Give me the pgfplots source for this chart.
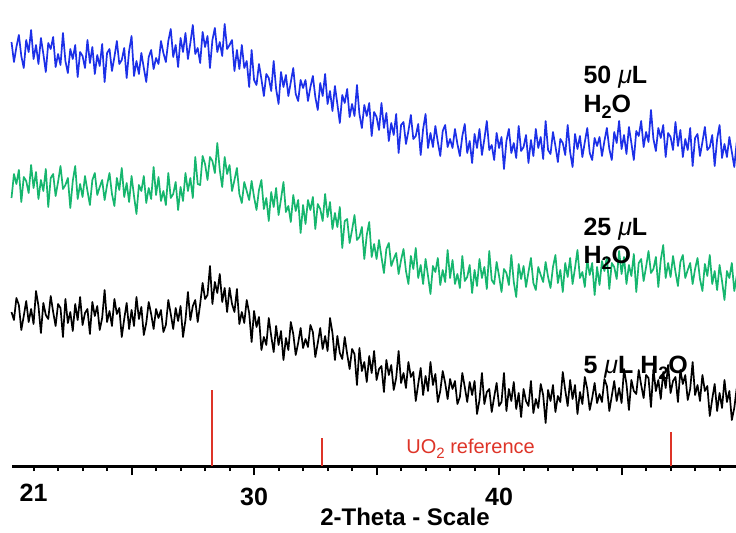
\documentclass[border=0pt]{standalone}
\usepackage{fontspec}
\setmainfont{Liberation Sans}
\usepackage{pgfplots}
\usepackage{pgfplotstable}
\pgfplotsset{compat=1.18}
\definecolor{tblue}{RGB}{28,48,232}
\definecolor{tgreen}{RGB}{22,182,110}
\definecolor{tred}{RGB}{222,52,40}
\newcommand{\sub}[1]{\raisebox{-0.5ex}{\fontsize{9}{9}\selectfont #1}}
\pgfplotstableread{
x b g k
20.1 424 268 154
20.2 404 292 146
20.3 419 282 168
20.4 431 296 161
20.5 410 264 136
20.6 398 289 150
20.7 426 285 165
20.8 414 273 144
20.9 436 301 157
21.0 407 278 142
21.1 421 294 175
21.2 402 267 160
21.3 428 286 133
21.4 412 275 163
21.5 394 297 151
21.6 423 259 147
21.7 417 288 170
21.8 429 292 154
21.9 399 270 140
22.0 412 284 162
22.1 401 300 158
22.2 433 277 129
22.3 405 281 167
22.4 393 288 143
22.5 417 258 154
22.6 407 285 135
22.7 421 300 162
22.8 389 267 146
22.9 414 282 169
23.0 410 269 141
23.1 398 290 153
23.2 426 275 157
23.3 403 261 132
23.4 419 286 164
23.5 392 293 150
23.6 411 271 160
23.7 400 279 136
23.8 422 286 148
23.9 384 266 176
24.0 413 281 144
24.1 417 293 155
24.2 395 272 140
24.3 409 260 167
24.4 425 288 152
24.5 402 276 158
24.6 406 298 129
24.7 418 269 147
24.8 388 283 163
24.9 415 264 137
25.0 430 290 156
25.1 390 270 140
25.2 405 252 169
25.3 392 281 147
25.4 413 275 159
25.5 398 290 131
25.6 384 263 143
25.7 409 278 164
25.8 416 267 152
25.9 397 299 137
26.0 408 271 157
26.1 402 289 148
26.2 425 265 156
26.3 413 275 134
26.4 404 261 141
26.5 425 293 166
26.6 437 268 152
26.7 409 272 137
26.8 421 284 158
26.9 399 256 145
27.0 428 279 160
27.1 414 265 129
27.2 433 293 146
27.3 407 275 174
27.4 423 288 146
27.5 441 268 160
27.6 412 309 166
27.7 418 282 144
27.8 403 281 162
27.9 434 310 183
28.0 419 302 167
28.1 430 286 171
28.2 398 309 200
28.3 426 305 162
28.4 438 293 184
28.5 414 323 173
28.6 424 296 192
28.7 410 279 164
28.8 442 309 178
28.9 417 292 154
29.0 421 301 178
29.1 426 275 162
29.2 395 286 154
29.3 416 298 177
29.4 397 272 142
29.5 421 263 154
29.6 398 284 143
29.7 405 275 166
29.8 379 266 153
29.9 416 285 124
30.0 386 269 155
30.1 381 256 139
30.2 402 276 149
30.3 387 286 116
30.4 370 257 129
30.5 392 268 121
30.6 388 245 148
30.7 375 274 130
30.8 405 259 114
30.9 377 278 140
31.0 362 251 121
31.1 394 267 135
31.2 379 284 106
31.3 391 254 128
31.4 370 260 116
31.5 384 244 144
31.6 398 271 132
31.7 372 255 111
31.8 365 266 123
31.9 386 233 138
32.0 378 261 118
32.1 386 242 127
32.2 365 266 119
32.3 379 256 141
32.4 390 269 134
32.5 369 237 109
32.6 356 262 123
32.7 383 257 138
32.8 370 245 117
32.9 392 272 130
33.0 362 249 115
33.1 375 264 148
33.2 355 237 133
33.3 380 253 106
33.4 362 239 130
33.5 343 259 113
33.6 371 218 107
33.7 363 245 129
33.8 377 247 112
33.9 349 223 97
34.0 362 236 117
34.1 350 251 112
34.2 381 226 81
34.3 352 229 118
34.4 338 239 95
34.5 361 207 104
34.6 350 231 84
34.7 363 244 110
34.8 330 209 93
34.9 354 222 115
35.0 349 207 86
35.1 336 226 97
35.2 363 209 100
35.3 338 193 74
35.4 353 217 106
35.5 325 223 91
35.6 343 200 101
35.7 331 207 76
35.8 352 213 88
35.9 313 192 115
36.0 341 206 83
36.1 344 217 93
36.2 322 195 78
36.3 335 182 104
36.4 351 210 89
36.5 327 197 94
36.6 330 218 65
36.7 342 188 82
36.8 311 201 98
36.9 337 182 71
37.0 352 207 90
37.1 318 190 75
37.2 333 172 104
37.3 319 200 81
37.4 340 194 92
37.5 324 208 64
37.6 310 181 75
37.7 335 196 95
37.8 341 184 83
37.9 319 216 67
38.0 327 188 87
38.1 318 206 77
38.2 337 182 85
38.3 322 192 62
38.4 310 178 69
38.5 330 210 93
38.6 342 185 79
38.7 313 189 64
38.8 325 201 84
38.9 303 173 71
39.0 332 196 85
39.1 318 180 52
39.2 337 207 66
39.3 311 188 93
39.4 327 199 62
39.5 345 177 74
39.6 316 215 77
39.7 321 186 54
39.8 306 182 69
39.9 333 204 83
40.0 318 190 60
40.1 329 174 64
40.2 297 197 93
40.3 325 193 55
40.4 337 181 77
40.5 313 211 65
40.6 323 184 84
40.7 308 169 57
40.8 340 202 73
40.9 315 187 49
41.0 319 200 77
41.1 331 179 65
41.2 303 194 60
41.3 326 208 85
41.4 310 183 53
41.5 337 176 67
41.6 318 199 58
41.7 329 191 82
41.8 307 184 71
41.9 345 204 43
42.0 316 189 76
42.1 312 178 65
42.2 334 199 81
42.3 320 211 54
42.4 304 183 70
42.5 327 196 64
42.6 323 174 94
42.7 311 203 76
42.8 341 189 60
42.9 314 208 86
43.0 299 182 67
43.1 332 198 81
43.2 317 216 52
43.3 330 188 74
43.4 309 194 62
43.5 324 179 89
43.6 338 206 77
43.7 313 191 56
43.8 306 203 68
43.9 328 171 83
44.0 320 199 63
44.1 329 181 72
44.2 310 205 64
44.3 325 195 87
44.4 338 209 80
44.5 317 177 55
44.6 306 203 70
44.7 334 199 85
44.8 323 187 65
44.9 345 215 78
45.0 317 192 63
45.1 331 209 97
45.2 312 182 82
45.3 339 201 56
45.4 323 190 86
45.5 306 212 75
45.6 335 174 72
45.7 330 203 96
45.8 345 207 81
45.9 319 185 68
46.0 334 199 91
46.1 324 215 88
46.2 356 193 59
46.3 327 197 97
46.4 315 209 75
46.5 338 179 86
46.6 328 206 67
46.7 341 221 94
46.8 309 188 78
46.9 333 203 101
47.0 329 189 73
47.1 316 210 85
47.2 344 194 89
47.3 320 180 64
47.4 336 204 96
47.5 309 211 82
47.6 327 188 91
47.7 316 196 66
47.8 338 203 77
47.9 300 182 104
48.0 328 197 71
48.1 332 208 81
48.2 310 187 65
48.3 324 175 91
48.4 339 202 75
48.5 316 190 80
48.6 319 211 50
48.7 331 182 67
48.8 300 195 82
48.9 327 176 55
49.0 341 201 73
49.1 308 185 58
49.2 322 166 86
49.3 309 195 64
49.4 329 188 75
49.5 314 203 46
49.6 299 175 58
49.7 324 190 78
}\xrd
\pgfplotstableread{
x h
28.28 76
32.78 28
47.00 34
}\refpeaks
\begin{document}
\begin{tikzpicture}
\begin{axis}[
  scale only axis,
  width=362pt, height=233pt,
  xmin=20.12, xmax=49.67,
  ymin=0, ymax=466,
  axis x line=bottom,
  axis y line=none,
  axis line style={-, line width=1.5pt, black},
  tick align=outside,
  xtick={25,30,35,40,45},
  xticklabels={,30,,40,},
  minor xtick={21,22,...,49},
  extra x ticks={21},
  extra x tick labels={21},
  extra x tick style={major tick length=2.5pt},
  major tick length=4.5pt,
  minor tick length=2.5pt,
  every tick/.style={black, line width=1pt},
  xticklabel style={font=\bfseries\fontsize{12.5}{14}\selectfont, yshift=-3pt},
  clip=false,
]
\addplot[tblue, line width=0.85pt, line join=round] table[x=x, y=b] {\xrd};
\addplot[tgreen, line width=0.85pt, line join=round] table[x=x, y=g] {\xrd};
\addplot[black, line width=0.85pt, line join=round] table[x=x, y=k] {\xrd};
\addplot[tred, line width=1pt, ycomb] table[x=x, y=h] {\refpeaks};
\node[anchor=base west, text=tred, font=\fontsize{10}{12}\selectfont, inner sep=0pt] at (axis cs:36.2,13) {UO{\raisebox{-0.5ex}{\fontsize{7.5}{7.5}\selectfont 2}} reference};
\node[anchor=base west, font=\bfseries\fontsize{12.5}{14}\selectfont, inner sep=0pt] at (axis cs:43.43,383) {50 {\mdseries\itshape μ}L};
\node[anchor=base west, font=\bfseries\fontsize{12.5}{14}\selectfont, inner sep=0pt] at (axis cs:43.43,354) {H\sub{2}O};
\node[anchor=base west, font=\bfseries\fontsize{12.5}{14}\selectfont, inner sep=0pt] at (axis cs:43.43,231) {25 {\mdseries\itshape μ}L};
\node[anchor=base west, font=\bfseries\fontsize{12.5}{14}\selectfont, inner sep=0pt] at (axis cs:43.43,203) {H\sub{2}O};
\node[anchor=base west, font=\bfseries\fontsize{12.5}{14}\selectfont, inner sep=0pt] at (axis cs:43.43,93) {5 {\mdseries\itshape μ}L H\sub{2}O};
\node[font=\bfseries\fontsize{12}{14}\selectfont, inner sep=0pt] at (axis cs:36.16,-51) {2-Theta - Scale};
\end{axis}
\pgfresetboundingbox
\path (-6pt,-33pt) rectangle (362pt,233pt);
\end{tikzpicture}
\end{document}
